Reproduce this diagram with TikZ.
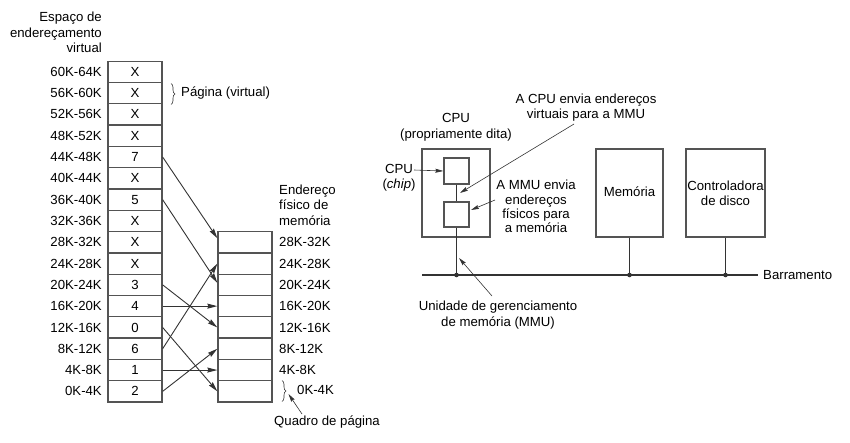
\documentclass[tikz,border=0pt]{standalone}
\usepackage{fontspec}
\setmainfont{Liberation Sans}
\usetikzlibrary{arrows.meta,decorations.pathreplacing}
\definecolor{ink}{gray}{0.2}
\definecolor{boxc}{gray}{0.33}
\begin{document}
\begin{tikzpicture}[x=1pt,y=-1pt,
  font=\fontsize{13.2}{15.5}\selectfont,
  txt/.style={inner sep=0pt, text=black},
  cell/.style={draw=boxc, line width=1.3pt, minimum width=54pt, minimum height=21.3pt, inner sep=0pt, text=black},
  boxx/.style={draw=boxc, line width=1.3pt},
  arr/.style={draw=ink, line width=0.9pt, -{Stealth[length=10pt,width=5pt,inset=1pt]}},
  larr/.style={draw=ink, line width=0.6pt, -{Stealth[length=8pt,width=4pt,inset=1pt]}},
  brc/.style={draw=ink, line width=0.6pt, decorate, decoration={brace, amplitude=4pt}},
  conn/.style={draw=ink, line width=1.2pt}]
\useasboundingbox (0,0) rectangle (850,442);

% ---- virtual address space ----
\node[txt, anchor=east, align=right] (vtitle) at (102,32.5) {Espaço de\\endereçamento\\virtual};
\foreach \v [count=\i from 0] in {2,1,6,0,4,3,X,X,X,5,X,7,X,X,X,X}{
  \pgfmathtruncatemacro\lo{4*\i}
  \pgfmathtruncatemacro\hi{4*\i+4}
  \node[cell] (v\i) at (135,{402-21.3*\i-10.65}) {\v};
  \node[txt, anchor=east] (vl\i) at (102,{402-21.3*\i-10.65}) {\lo K-\hi K};
}
\draw[brc] (171,83.5) -- (171,104.5);
\node[txt, anchor=west] (pagv) at (181,93.5) {Página (virtual)};

% ---- physical memory ----
\node[txt, anchor=west, align=left] (ptitle) at (279,205) {Endereço\\físico de\\memória};
\foreach \i in {0,...,7}{
  \node[cell] (p\i) at (245,{402-21.3*\i-10.65}) {};
}
\foreach \i in {1,...,7}{
  \pgfmathtruncatemacro\lo{4*\i}
  \pgfmathtruncatemacro\hi{4*\i+4}
  \node[txt, anchor=west] (pl\i) at (279,{402-21.3*\i-10.65}) {\lo K-\hi K};
}
\node[txt, anchor=west] (pl0) at (297,390) {0K-4K};
\draw[brc] (282,380.5) -- (282,401.5);
\node[txt, anchor=north] (quadro) at (327,416) {Quadro de página};
\coordinate (qt) at (302,414);
\coordinate (qh) at (288.5,394);
\draw[larr] (qt) -- (qh);

% ---- mappings ----
\draw[arr] (v0.east) -- (p2.west);
\draw[arr] (v1.east) -- (p1.west);
\draw[arr] (v2.east) -- (p6.west);
\draw[arr] (v3.east) -- (p0.west);
\draw[arr] (v4.east) -- (p4.west);
\draw[arr] (v5.east) -- (p3.west);
\draw[arr] (v9.east) -- ([yshift=2pt]p5.west);
\draw[arr] (v11.east) -- ([yshift=4pt]p7.west);

% ---- hardware ----
\node[boxx, minimum width=68pt, minimum height=88pt, inner sep=0pt] (cpu) at (456,193) {};
\node[boxx, minimum width=25pt, minimum height=26pt, inner sep=0pt] (chip) at (456.5,171) {};
\node[boxx, minimum width=25pt, minimum height=25pt, inner sep=0pt] (mmu) at (456.5,214.5) {};
\node[boxx, minimum width=67pt, minimum height=88pt, inner sep=0pt] (mem) at (629.5,193) {};
\node[boxx, minimum width=79pt, minimum height=88pt, inner sep=0pt] (ctl) at (725.5,193) {};
\node[txt] (memt) at (629.5,192) {Memória};
\node[txt, align=center] (ctlt) at (725.5,193.5) {Controladora\\de disco};

\coordinate (busL) at (422,275);
\coordinate (busR) at (758,275);
\coordinate (j1) at (456.5,275);
\coordinate (j2) at (629.5,275);
\coordinate (j3) at (725.5,275);
\draw[conn] (busL) -- (busR);
\draw[conn] (chip.south) -- (mmu.north);
\draw[conn] (mmu.south) -- (j1);
\draw[conn] (mem.south) -- (j2);
\draw[conn] (ctl.south) -- (j3);
\foreach \j in {j1,j2,j3} \fill[ink] (\j) circle (2.3pt);
\node[txt, anchor=west] (bus) at (763,275) {Barramento};

\node[txt, align=center] (cput) at (456,127.5) {CPU\\(propriamente dita)};
\node[txt, align=center] (chipt) at (399,178) {CPU\\(\textit{chip})};
\draw[larr] (414,170) -- (chip.west);

\node[txt, align=center] (vtxt) at (586,107.5) {A CPU envia endereços\\virtuais para a MMU};
\coordinate (va) at (574,124);
\coordinate (vb) at (460,193);
\draw[larr] (va) -- (vb);

\node[txt, align=center, font=\fontsize{13.2}{14.4}\selectfont] (mtxt) at (536,206.5) {A MMU envia\\endereços\\físicos para\\a memória};
\coordinate (ma) at (495,200);
\draw[larr] (ma) -- (471,210);

\node[txt, align=center] (utxt) at (498,315) {Unidade de gerenciamento\\de memória (MMU)};
\coordinate (ua) at (492,296);
\coordinate (ub) at (459,258);
\draw[larr] (ua) -- (ub);
\end{tikzpicture}
\end{document}
